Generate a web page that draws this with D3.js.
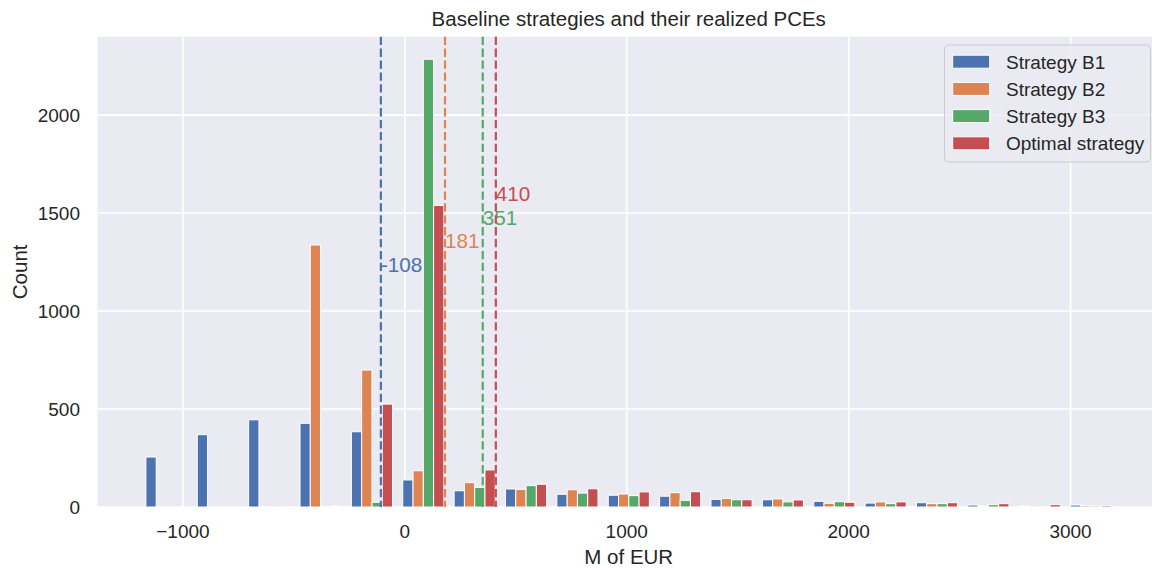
<!DOCTYPE html>
<html>
<head>
<meta charset="utf-8">
<script src="https://cdn.jsdelivr.net/npm/d3@7"></script>
<style>
  body { margin: 0; background: #fff; }
  svg { font-family: "Liberation Sans", Arial, sans-serif; }
</style>
</head>
<body>
<div id="chart"></div>
<script>
// histogram bin edges (M of EUR)
const binEdges = [-1190, -958.5, -727, -495.5, -264, -32.5, 199, 430.5, 662, 893.5,
  1125, 1356.5, 1588, 1819.5, 2051, 2282.5, 2514, 2745.5, 2977, 3208.5];

const seriesNames = ['Strategy B1', 'Strategy B2', 'Strategy B3', 'Optimal strategy'];
const colors = ['#4C72B0', '#DD8452', '#55A868', '#C44E52'];

const countsB1 = [255, 369, 445, 427, 384, 138, 83, 92, 65, 60, 55, 39, 37, 29, 20, 22, 10, 5, 10];
const countsB2 = [0, 0, 0, 1337, 699, 185, 124, 90, 88, 66, 73, 44, 41, 19, 26, 17, 5, 2, 7];
const countsB3 = [0, 0, 0, 0, 24, 2285, 100, 109, 71, 58, 34, 37, 26, 27, 17, 17, 12, 0, 6];
const countsOpt = [0, 0, 0, 5, 525, 1539, 189, 116, 93, 77, 78, 37, 36, 24, 26, 22, 17, 12, 7];

const means = [-108, 181, 351, 410];
const meanLabelY = [1200, 1320, 1440, 1560];

const xTicks = [-1000, 0, 1000, 2000, 3000];
const yTicks = [0, 500, 1000, 1500, 2000];

const allCounts = [countsB1, countsB2, countsB3, countsOpt];

const W = 1152;
const H = 571;
const plot = { l: 97.5, r: 1160, t: 36.7, b: 507 };

const x = d3.scaleLinear().domain([-1385, 3403]).range([plot.l, plot.r]);
const y = d3.scaleLinear().domain([0, 2400]).range([plot.b, plot.t]);

const svg = d3.select('#chart').append('svg')
  .attr('width', W)
  .attr('height', H);

// background
svg.append('rect')
  .attr('x', plot.l)
  .attr('y', plot.t)
  .attr('width', plot.r - plot.l)
  .attr('height', plot.b - plot.t)
  .attr('fill', '#EAEAF2');

// grid
const grid = svg.append('g');
grid.selectAll('.gx')
  .data(xTicks)
  .enter().append('line')
  .attr('x1', d => x(d)).attr('x2', d => x(d))
  .attr('y1', plot.t).attr('y2', plot.b)
  .attr('stroke', '#fff').attr('stroke-width', 1.6);
grid.selectAll('.gy')
  .data(yTicks)
  .enter().append('line')
  .attr('x1', plot.l).attr('x2', plot.r)
  .attr('y1', d => y(d)).attr('y2', d => y(d))
  .attr('stroke', '#fff').attr('stroke-width', 1.6);

// bars: 4 datasets side by side within each bin, group width 0.8 of bin
const nx = allCounts.length;
allCounts.forEach((counts, s) => {
  const bars = counts.map((c, i) => {
    const lo = binEdges[i];
    const bw = binEdges[i + 1] - lo;
    const w = 0.8 * bw / nx;
    const x0 = lo + 0.1 * bw + s * w;
    return { x0, x1: x0 + w, c };
  });
  svg.append('g').selectAll('rect')
    .data(bars)
    .enter().append('rect')
    .attr('x', d => x(d.x0))
    .attr('width', d => x(d.x1) - x(d.x0))
    .attr('y', d => y(d.c))
    .attr('height', d => y(0) - y(d.c))
    .attr('fill', colors[s])
    .attr('stroke', '#fff')
    .attr('stroke-width', 1);
});

// mean lines + labels
means.forEach((m, i) => {
  svg.append('line')
    .attr('x1', x(m)).attr('x2', x(m))
    .attr('y1', plot.t).attr('y2', plot.b)
    .attr('stroke', colors[i])
    .attr('stroke-width', 2.2)
    .attr('stroke-dasharray', '8.3,3.6');
  svg.append('text')
    .attr('x', x(m))
    .attr('y', y(meanLabelY[i]))
    .attr('fill', colors[i])
    .attr('font-size', 20.7)
    .text(String(m));
});

// tick labels
svg.append('g').selectAll('text')
  .data(xTicks)
  .enter().append('text')
  .attr('x', d => x(d))
  .attr('y', 538)
  .attr('text-anchor', 'middle')
  .attr('font-size', 19)
  .attr('fill', '#262626')
  .text(d => d < 0 ? '\u2212' + Math.abs(d) : String(d));

svg.append('g').selectAll('text')
  .data(yTicks)
  .enter().append('text')
  .attr('x', 80)
  .attr('y', d => y(d) + 6.8)
  .attr('text-anchor', 'end')
  .attr('font-size', 19)
  .attr('fill', '#262626')
  .text(d => String(d));

// axis labels + title
svg.append('text')
  .attr('x', (plot.l + plot.r) / 2)
  .attr('y', 564)
  .attr('text-anchor', 'middle')
  .attr('font-size', 20.5)
  .attr('fill', '#262626')
  .text('M of EUR');

svg.append('text')
  .attr('transform', `translate(27, ${(plot.t + plot.b) / 2}) rotate(-90)`)
  .attr('text-anchor', 'middle')
  .attr('font-size', 20.5)
  .attr('fill', '#262626')
  .text('Count');

svg.append('text')
  .attr('x', (plot.l + plot.r) / 2)
  .attr('y', 26)
  .attr('text-anchor', 'middle')
  .attr('font-size', 20.5)
  .attr('fill', '#262626')
  .text('Baseline strategies and their realized PCEs');

// legend
const legend = svg.append('g');
legend.append('rect')
  .attr('x', 944.5).attr('y', 45)
  .attr('width', 206).attr('height', 117)
  .attr('rx', 4)
  .attr('fill', '#EAEAF2').attr('fill-opacity', 0.8)
  .attr('stroke', '#CCCCCC').attr('stroke-width', 1);

const rows = legend.selectAll('g.row')
  .data(seriesNames)
  .enter().append('g')
  .attr('transform', (d, i) => `translate(0, ${61.7 + i * 27.2})`);

rows.append('rect')
  .attr('x', 952.7).attr('y', -6.5)
  .attr('width', 37).attr('height', 13)
  .attr('fill', (d, i) => colors[i])
  .attr('stroke', '#fff').attr('stroke-width', 1);

rows.append('text')
  .attr('x', 1006)
  .attr('y', 6.8)
  .attr('font-size', 19)
  .attr('fill', '#262626')
  .text(d => d);
</script>
</body>
</html>
